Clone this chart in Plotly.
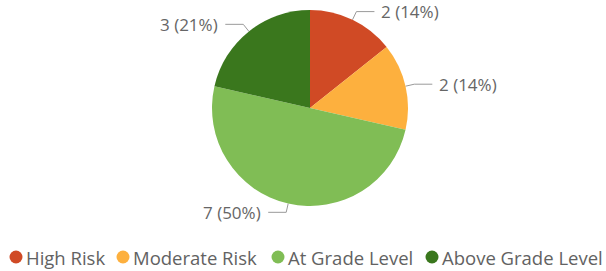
import math
import plotly.graph_objects as go

# ---- data ----
categories = ["High Risk", "Moderate Risk", "At Grade Level", "Above Grade Level"]
counts = [2, 2, 7, 3]
colors = ["#D04A25", "#FDB03E", "#80BD55", "#3A771D"]

# ---- layout constants (pixels) ----
W, H = 606, 271
CX, CY, R = 310, 108, 98          # pie centre / radius
LEG_Y = 257
LEG_X = [16, 123, 278, 432]       # legend marker centres
FONT = "Open Sans"

total = sum(counts)

fig = go.Figure()

fig.add_trace(go.Pie(
    labels=categories, values=counts, sort=False, direction="clockwise", rotation=0,
    marker=dict(colors=colors, line=dict(width=0)),
    textinfo="none", hoverinfo="label+value+percent", showlegend=False,
    domain=dict(x=[(CX - R) / W, (CX + R) / W], y=[1 - (CY + R) / H, 1 - (CY - R) / H]),
))

annotations = []
cum = 0
for cat, v in zip(categories, counts):
    mid = (cum + v / 2) / total * 2 * math.pi
    cum += v
    sx, sy = math.sin(mid), -math.cos(mid)
    x1, y1 = CX + R * sx, CY + R * sy
    x2, y2 = CX + (R + 9) * sx, CY + (R + 9) * sy
    side = 1 if sx >= 0 else -1
    x3 = x2 + side * 18
    fig.add_trace(go.Scatter(
        x=[x1, x2, x3], y=[y1, y2, y2], mode="lines",
        line=dict(color="#9A9A9A", width=1), hoverinfo="skip", showlegend=False,
    ))
    pct = round(v / total * 100)
    annotations.append(dict(
        x=x3 + side * 5, y=y2, xref="x", yref="y", showarrow=False,
        text=f"{v} ({pct}%)", xanchor="left" if side > 0 else "right", yanchor="middle",
        font=dict(family=FONT, size=17, color="#666666"),
    ))

# manual legend with circle markers
for cat, col, lx in zip(categories, colors, LEG_X):
    fig.add_trace(go.Scatter(
        x=[lx], y=[LEG_Y], mode="markers",
        marker=dict(symbol="circle", size=13, color=col),
        hoverinfo="skip", showlegend=False,
    ))
    annotations.append(dict(
        x=lx + 8, y=LEG_Y, xref="x", yref="y", showarrow=False, text=cat,
        xanchor="left", yanchor="middle",
        font=dict(family=FONT, size=18.5, color="#626262"),
    ))

fig.update_layout(
    width=W, height=H, margin=dict(l=0, r=0, t=0, b=0),
    paper_bgcolor="white", plot_bgcolor="rgba(0,0,0,0)",
    xaxis=dict(range=[0, W], visible=False, fixedrange=True, domain=[0, 1]),
    yaxis=dict(range=[H, 0], visible=False, fixedrange=True, domain=[0, 1]),
    annotations=annotations, showlegend=False,
)

fig.write_html("out.html", config={"displayModeBar": False},
               post_script="document.body.style.margin='0';")
